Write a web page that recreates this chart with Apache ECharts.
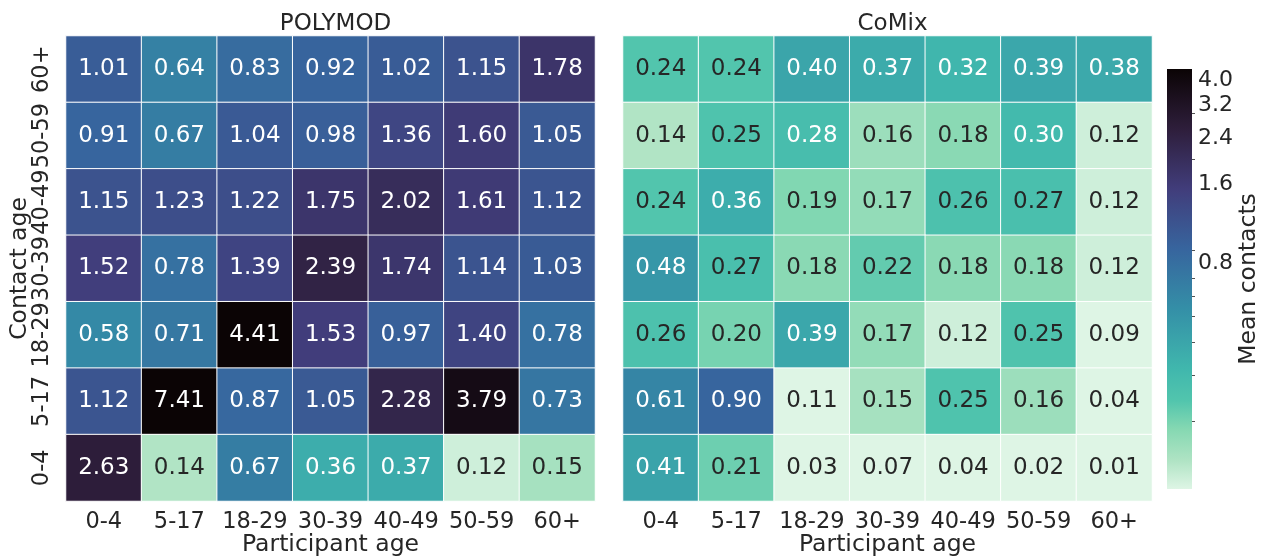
<!DOCTYPE html>
<html>
<head>
<meta charset="utf-8">
<title>Contact matrices</title>
<script src="https://cdn.jsdelivr.net/npm/echarts@6/dist/echarts.min.js"></script>
<style>
  html, body { margin: 0; padding: 0; background: #fff; }
  #chart { width: 1266px; height: 558px; }
</style>
</head>
<body>
<div id="chart"></div>
<script>
const ageGroups = ["0-4", "5-17", "18-29", "30-39", "40-49", "50-59", "60+"];

// rows from top (contact age 60+) down to 0-4, columns = participant age 0-4 ... 60+
const polymodRows = [
  [1.01, 0.64, 0.83, 0.92, 1.02, 1.15, 1.78],
  [0.91, 0.67, 1.04, 0.98, 1.36, 1.60, 1.05],
  [1.15, 1.23, 1.22, 1.75, 2.02, 1.61, 1.12],
  [1.52, 0.78, 1.39, 2.39, 1.74, 1.14, 1.03],
  [0.58, 0.71, 4.41, 1.53, 0.97, 1.40, 0.78],
  [1.12, 7.41, 0.87, 1.05, 2.28, 3.79, 0.73],
  [2.63, 0.14, 0.67, 0.36, 0.37, 0.12, 0.15],
];

const comixRows = [
  [0.24, 0.24, 0.40, 0.37, 0.32, 0.39, 0.38],
  [0.14, 0.25, 0.28, 0.16, 0.18, 0.30, 0.12],
  [0.24, 0.36, 0.19, 0.17, 0.26, 0.27, 0.12],
  [0.48, 0.27, 0.18, 0.22, 0.18, 0.18, 0.12],
  [0.26, 0.20, 0.39, 0.17, 0.12, 0.25, 0.09],
  [0.61, 0.90, 0.11, 0.15, 0.25, 0.16, 0.04],
  [0.41, 0.21, 0.03, 0.07, 0.04, 0.02, 0.01],
];

const colorbarTicks = [0.8, 1.6, 2.4, 3.2, 4.0];
const colorbarMinorTicks = [0.2, 0.3, 0.4, 0.5, 0.6, 0.7, 0.9, 2, 3];

// log colour scale limits
const vmin = 0.11;
const vmax = 4.41;

// mako (dark -> light)
const makoStops = [
  [0.0, "#0B0405"],
  [0.143, "#2E1E3B"],
  [0.286, "#413D7B"],
  [0.429, "#37659E"],
  [0.571, "#348FA7"],
  [0.714, "#40B7AD"],
  [0.79, "#52C5AD"],
  [0.857, "#85D8B2"],
  [0.93, "#AEE3C3"],
  [1.0, "#DEF5E5"],
];

const textDark = "#262626";
const font = "DejaVu Sans";
const lnMin = Math.log(vmin);
const lnMax = Math.log(vmax);

function hexToRgb(h) {
  return [1, 3, 5].map(i => parseInt(h.slice(i, i + 2), 16));
}

function makoAt(s) {
  for (let i = 1; i < makoStops.length; i++) {
    if (s <= makoStops[i][0]) {
      const [s0, c0] = makoStops[i - 1];
      const [s1, c1] = makoStops[i];
      const f = (s - s0) / (s1 - s0);
      const a = hexToRgb(c0), b = hexToRgb(c1);
      return a.map((v, k) => Math.round(v + (b[k] - v) * f));
    }
  }
  return hexToRgb(makoStops[makoStops.length - 1][1]);
}

function cellRgb(v) {
  let t = (Math.log(v) - lnMin) / (lnMax - lnMin);
  t = Math.min(1, Math.max(0, t));
  return makoAt(1 - t);
}

// same rule seaborn uses for annotation colour
function luminance(rgb) {
  const lin = rgb.map(c => {
    c = c / 255;
    return c <= 0.03928 ? c / 12.92 : Math.pow((c + 0.055) / 1.055, 2.4);
  });
  return 0.2126 * lin[0] + 0.7152 * lin[1] + 0.0722 * lin[2];
}

function buildData(rows) {
  const out = [];
  rows.forEach((row, r) => {
    row.forEach((v, c) => {
      const rgb = cellRgb(v);
      out.push({
        value: [c, rows.length - 1 - r, v],
        itemStyle: { color: "rgb(" + rgb.join(",") + ")" },
        label: { color: luminance(rgb) > 0.408 ? textDark : "#ffffff" },
      });
    });
  });
  return out;
}

const chart = echarts.init(document.getElementById("chart"));

const gradientStops = makoStops.map(([s, c]) => ({ offset: s, color: c }));

const catX = (gridIndex) => ({
  type: "category",
  gridIndex: gridIndex,
  data: ageGroups,
  name: "Participant age",
  nameLocation: "middle",
  nameGap: 32,
  nameMoveOverlap: false,
  nameTextStyle: { fontFamily: font, fontSize: 23.5, color: textDark },
  axisLine: { show: false },
  axisTick: { show: false },
  splitLine: { show: false },
  axisLabel: { interval: 0, fontFamily: font, fontSize: 22.5, color: textDark, margin: 10 },
});

const titleStyle = { fontFamily: font, fontSize: 23, fontWeight: "normal", color: textDark };

const options = {
  backgroundColor: "#ffffff",
  animation: false,
  title: [
    { text: "POLYMOD", left: 330.5, top: 8, textAlign: "center", textStyle: titleStyle },
    { text: "CoMix", left: 887.5, top: 8, textAlign: "center", textStyle: titleStyle },
  ],
  grid: [
    { left: 66, top: 36, width: 529, height: 465, outerBoundsMode: "none" },
    { left: 623, top: 36, width: 529, height: 465, outerBoundsMode: "none" },
    { left: 1167, top: 69, width: 25, height: 420, outerBoundsMode: "none" },
  ],
  xAxis: [
    catX(0),
    catX(1),
    { type: "value", gridIndex: 2, min: 0, max: 1, show: false },
  ],
  yAxis: [
    {
      type: "category",
      gridIndex: 0,
      data: ageGroups,
      name: "Contact age",
      nameLocation: "middle",
      nameRotate: 90,
      nameGap: 34,
      nameMoveOverlap: false,
      nameTextStyle: { fontFamily: font, fontSize: 23.5, color: textDark },
      axisLine: { show: false },
      axisTick: { show: false },
      axisLabel: { interval: 0, fontFamily: font, fontSize: 22.5, color: textDark, rotate: 90, margin: 12 },
    },
    {
      type: "category",
      gridIndex: 1,
      data: ageGroups,
      axisLine: { show: false },
      axisTick: { show: false },
      axisLabel: { show: false },
    },
    {
      type: "value",
      gridIndex: 2,
      position: "right",
      min: lnMin,
      max: lnMax,
      name: "Mean contacts",
      nameLocation: "middle",
      nameRotate: 90,
      nameGap: 45,
      nameMoveOverlap: false,
      nameTextStyle: { fontFamily: font, fontSize: 23.5, color: textDark },
      axisLine: { show: false },
      splitLine: { show: false },
      axisTick: {
        show: true,
        length: 5,
        lineStyle: { color: textDark, width: 1 },
        customValues: colorbarTicks.map(Math.log),
      },
      axisLabel: {
        fontFamily: font,
        fontSize: 22,
        color: textDark,
        margin: 6,
        customValues: colorbarTicks.map(Math.log),
        formatter: v => Math.exp(v).toFixed(1),
      },
    },
    {
      type: "value",
      gridIndex: 2,
      position: "right",
      min: lnMin,
      max: lnMax,
      axisLine: { show: false },
      splitLine: { show: false },
      axisLabel: { show: false },
      axisTick: {
        show: true,
        length: 3,
        lineStyle: { color: textDark, width: 0.8 },
        customValues: colorbarMinorTicks.map(Math.log),
      },
    },
  ],
  series: [
    {
      type: "heatmap",
      xAxisIndex: 0,
      yAxisIndex: 0,
      data: buildData(polymodRows),
      itemStyle: { borderColor: "#ffffff", borderWidth: 1 },
      label: {
        show: true,
        fontFamily: font,
        fontSize: 23,
        formatter: p => p.value[2].toFixed(2),
      },
      emphasis: { disabled: true },
    },
    {
      type: "heatmap",
      xAxisIndex: 1,
      yAxisIndex: 1,
      data: buildData(comixRows),
      itemStyle: { borderColor: "#ffffff", borderWidth: 1 },
      label: {
        show: true,
        fontFamily: font,
        fontSize: 23,
        formatter: p => p.value[2].toFixed(2),
      },
      emphasis: { disabled: true },
    },
    {
      // colour bar
      type: "custom",
      xAxisIndex: 2,
      yAxisIndex: 2,
      silent: true,
      data: [[0, lnMin, 1, lnMax]],
      renderItem: (params, api) => {
        const p0 = api.coord([api.value(0), api.value(3)]);
        const p1 = api.coord([api.value(2), api.value(1)]);
        return {
          type: "rect",
          shape: { x: p0[0], y: p0[1], width: p1[0] - p0[0], height: p1[1] - p0[1] },
          style: { fill: new echarts.graphic.LinearGradient(0, 0, 0, 1, gradientStops) },
        };
      },
    },
  ],
};

chart.setOption(options);
</script>
</body>
</html>
